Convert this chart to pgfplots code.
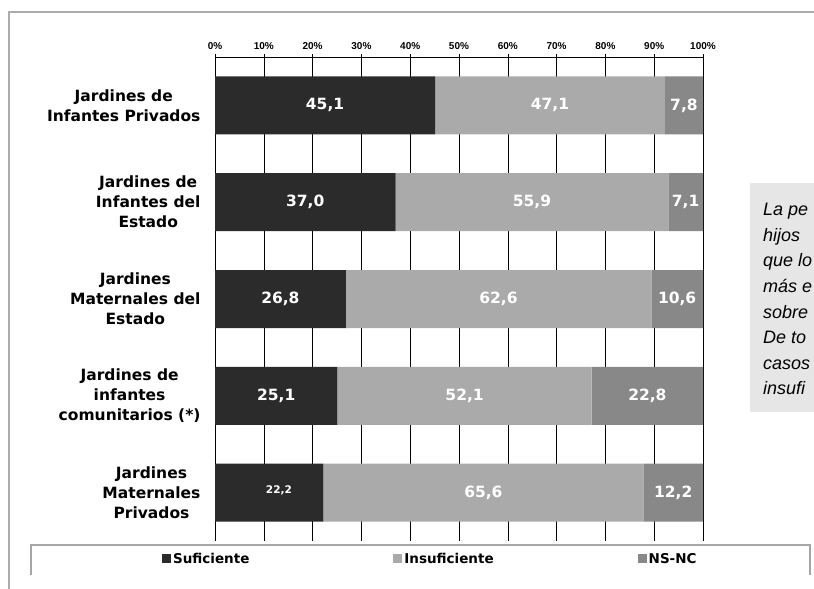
\documentclass[border=0pt]{standalone}
\usepackage{pgfplots}
\pgfplotsset{compat=1.18}
\usepackage{fontspec}
\setmainfont{DejaVu Sans}
\newfontfamily\arialfont{Liberation Sans}
\definecolor{cSuf}{HTML}{2B2B2B}
\definecolor{cIns}{HTML}{AAAAAA}
\definecolor{cNs}{HTML}{888888}
\definecolor{boxgray}{HTML}{E6E6E6}
\tikzset{vl/.style={text=white, font=\bfseries\fontsize{15.5}{17}\selectfont},
  bt/.style={anchor=base west, inner sep=0pt, font=\arialfont\itshape\fontsize{18}{20}\selectfont}}
\begin{document}
\begin{tikzpicture}
\useasboundingbox (0pt,0pt) rectangle (814pt,-589pt);
\clip (0pt,0pt) rectangle (814pt,-589pt);
% outer frame
\draw[gray!65, line width=1.6pt] (9pt,-600pt) -- (9pt,-12pt) -- (830pt,-12pt);
% side text box
\fill[boxgray] (750pt,-183pt) rectangle (830pt,-412pt);
\node[bt] at (763pt,-215pt) {La pe};
\node[bt] at (763pt,-241pt) {hijos};
\node[bt] at (763pt,-266pt) {que lo};
\node[bt] at (763pt,-292pt) {más e};
\node[bt] at (763pt,-318pt) {sobre};
\node[bt] at (763pt,-343pt) {De to};
\node[bt] at (763pt,-369pt) {casos};
\node[bt] at (763pt,-394pt) {insufi};
% legend box
\draw[gray!70, line width=1.2pt] (31pt,-575pt) -- (31pt,-545pt) -- (810pt,-545pt) -- (810pt,-575pt);
\begin{axis}[
  at={(215pt,-57pt)}, anchor=north west,
  scale only axis, width=488pt, height=484pt,
  xbar stacked, bar width=58pt,
  xmin=0, xmax=100, ymin=0.5, ymax=5.5, y dir=reverse,
  axis x line*=top, axis y line*=left,
  axis line style={black, line width=0.9pt},
  xtick={0,10,...,100},
  xticklabel={\pgfmathprintnumber{\tick}\%},
  /pgf/number format/assume math mode=true,
  xticklabel style={font=\arialfont\bfseries\fontsize{10}{12}\selectfont, yshift=1pt},
  xmajorgrids, major grid style={black, line width=0.6pt},
  tick align=outside, major tick length=3pt,
  tick style={black, line width=0.6pt},
  ytick={1,2,3,4,5},
  yticklabels={{Jardines de\\Infantes Privados},{Jardines de\\Infantes del\\Estado},{Jardines\\Maternales del\\Estado},{Jardines de\\infantes\\comunitarios (*)},{Jardines\\Maternales\\Privados}},
  yticklabel style={align=center, font=\bfseries\fontsize{15.5}{20}\selectfont, xshift=-8pt},
  ytick style={draw=none},
  extra y ticks={1.5,2.5,3.5,4.5},
  extra y tick labels={},
  extra y tick style={grid=none, major tick length=5pt, tick style={draw=black, line width=0.6pt}},
  legend columns=3,
  legend style={at={(-0.115,-0.037)}, anchor=west, draw=none, fill=none,
    font=\bfseries\fontsize{13.5}{15}\selectfont,
    /tikz/every even column/.append style={column sep=142pt}},
  legend image code/.code={\fill[#1] (0pt,-4.5pt) rectangle (9pt,4.5pt);},
  clip=false,
  after end axis/.code={
    \node[vl] at (axis cs:22.55,1) {45,1};
    \node[vl] at (axis cs:68.65,1) {47,1};
    \node[vl] at (axis cs:96.1,1) {7,8};
    \node[vl] at (axis cs:18.5,2) {37,0};
    \node[vl] at (axis cs:64.95,2) {55,9};
    \node[vl] at (axis cs:96.45,2) {7,1};
    \node[vl] at (axis cs:13.4,3) {26,8};
    \node[vl] at (axis cs:58.1,3) {62,6};
    \node[vl] at (axis cs:94.7,3) {10,6};
    \node[vl] at (axis cs:12.55,4) {25,1};
    \node[vl] at (axis cs:51.15,4) {52,1};
    \node[vl] at (axis cs:88.6,4) {22,8};
    \node[vl, font=\bfseries\fontsize{10.5}{12}\selectfont, yshift=2pt] at (axis cs:13.1,5) {22,2};
    \node[vl] at (axis cs:55.0,5) {65,6};
    \node[vl] at (axis cs:93.9,5) {12,2};
  },
]
\addplot[fill=cSuf, draw=none] coordinates {(45.1,1) (37.0,2) (26.8,3) (25.1,4) (22.2,5)};
\addplot[fill=cIns, draw=none] coordinates {(47.1,1) (55.9,2) (62.6,3) (52.1,4) (65.6,5)};
\addplot[fill=cNs, draw=none] coordinates {(7.8,1) (7.1,2) (10.6,3) (22.8,4) (12.2,5)};
\legend{Suficiente,Insuficiente,NS-NC}
\end{axis}
\end{tikzpicture}
\end{document}
